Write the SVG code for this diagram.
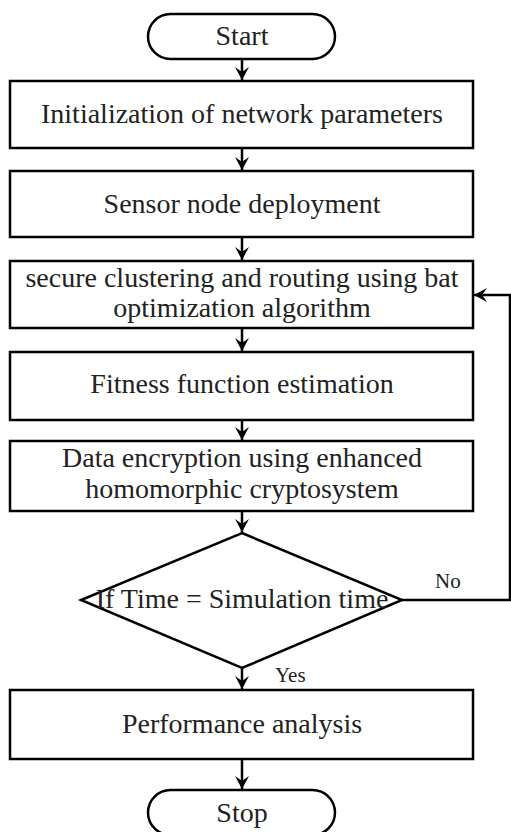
<svg xmlns="http://www.w3.org/2000/svg" width="511" height="832" viewBox="0 0 511 832">
  <defs>
    <marker id="arrow" markerUnits="userSpaceOnUse" markerWidth="16" markerHeight="16" viewBox="-14 -8 16 16" refX="0" refY="0" orient="auto">
      <path d="M0,0 L-13,-7 L-8,0 L-13,7 Z" fill="#000"/>
    </marker>
  </defs>
  <style>
    .shape { fill: #fff; stroke: #000; stroke-width: 2.5; }
    .lbl { font-family: "Liberation Serif", "Times New Roman", serif; font-size: 28px; fill: #222; text-anchor: middle; }
    .small { font-family: "Liberation Serif", "Times New Roman", serif; font-size: 21px; fill: #222; }
    .edge { fill: none; stroke: #000; stroke-width: 2.5; marker-end: url(#arrow); }
  </style>
  <rect width="511" height="832" fill="#fff"/>

  <g id="connectors">
    <path class="edge" d="M242,59 V80"/>
    <path class="edge" d="M242,148 V170"/>
    <path class="edge" d="M242,237 V260"/>
    <path class="edge" d="M242,328 V351"/>
    <path class="edge" d="M242,420 V440"/>
    <path class="edge" d="M242,511 V532"/>
    <path class="edge" d="M242,668 V689"/>
    <path class="edge" d="M242,759 V789"/>
    <path class="edge" d="M402,600 H510 V295 H474"/>
  </g>

  <g id="start">
    <rect class="shape" x="148" y="14" width="187" height="45" rx="22.5" ry="22.5"/>
    <text class="lbl" x="242" y="45">Start</text>
  </g>

  <g id="init">
    <rect class="shape" x="10" y="81" width="463" height="67"/>
    <text class="lbl" x="242" y="123">Initialization of network parameters</text>
  </g>

  <g id="deploy">
    <rect class="shape" x="10" y="171" width="463" height="66"/>
    <text class="lbl" x="242" y="213">Sensor node deployment</text>
  </g>

  <g id="cluster">
    <rect class="shape" x="10" y="261" width="463" height="67"/>
    <text class="lbl" x="242" y="287">secure clustering and routing using bat</text>
    <text class="lbl" x="242" y="317">optimization algorithm</text>
  </g>

  <g id="fitness">
    <rect class="shape" x="10" y="352" width="463" height="68"/>
    <text class="lbl" x="242" y="393">Fitness function estimation</text>
  </g>

  <g id="encrypt">
    <rect class="shape" x="10" y="441" width="463" height="70"/>
    <text class="lbl" x="242" y="467">Data encryption using enhanced</text>
    <text class="lbl" x="242" y="498">homomorphic cryptosystem</text>
  </g>

  <g id="decision">
    <polygon class="shape" points="242,533 402,600 242,668 81,600"/>
    <text class="lbl" x="242" y="608">If Time = Simulation time</text>
    <text class="small" x="435" y="588">No</text>
    <text class="small" x="275" y="682">Yes</text>
  </g>

  <g id="analysis">
    <rect class="shape" x="10" y="690" width="463" height="69"/>
    <text class="lbl" x="242" y="733">Performance analysis</text>
  </g>

  <g id="stop">
    <rect class="shape" x="148" y="790" width="187" height="45" rx="22.5" ry="22.5"/>
    <text class="lbl" x="242" y="822">Stop</text>
  </g>
</svg>
